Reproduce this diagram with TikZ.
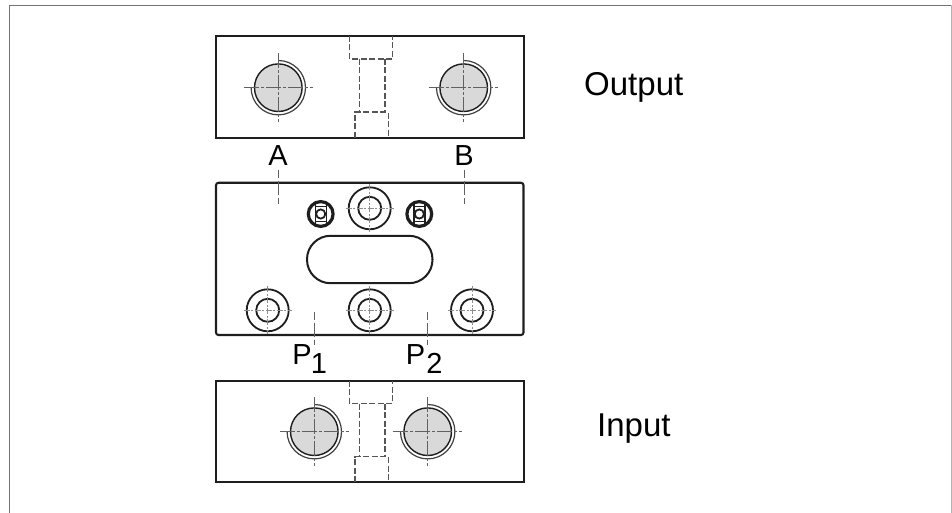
\documentclass[tikz,border=0pt]{standalone}
\usepackage{fontspec}
\setmainfont{Liberation Sans}
\definecolor{ink}{HTML}{1E1E1E}
\definecolor{threadfill}{HTML}{D9D9D9}
\tikzset{
  x=1pt,y=-1pt,
  block/.style={draw=ink,line width=2.1pt},
  hidden/.style={draw=ink!75,line width=1.1pt,dash pattern=on 6pt off 2.5pt},
  centre/.style={draw=ink!70,line width=0.9pt,dash pattern=on 15pt off 2pt on 3pt off 2pt},
  holeline/.style={draw=ink,line width=1.8pt},
  label/.style={inner sep=0pt,anchor=base},
  biglabel/.style={label,font=\fontsize{29}{29}\selectfont},
  titlelabel/.style={inner sep=0pt,anchor=base west,font=\fontsize{33}{33}\selectfont},
}
\newcommand{\threadhole}[2]{%
  \draw[draw=ink,line width=1.4pt,fill=threadfill] (#1,#2) circle[radius=23.8];
  \draw[draw=ink!85,line width=1.2pt] (#1,#2-27.2) arc[start angle=-90,end angle=180,x radius=27.2,y radius=27.2];
  \draw[centre] (#1-34.5,#2) -- (#1+34.5,#2);
  \draw[centre] (#1,#2-34.5) -- (#1,#2+34.5);
}
\newcommand{\counterbore}[2]{%
  \draw[holeline] (#1,#2) circle[radius=21];
  \draw[holeline] (#1,#2) circle[radius=11.5];
  \draw[draw=ink!50,line width=0.7pt,dash pattern=on 6pt off 1.5pt on 2pt off 1.5pt] (#1-24,#2) -- (#1+24,#2);
  \draw[draw=ink!50,line width=0.7pt,dash pattern=on 6pt off 1.5pt on 2pt off 1.5pt] (#1,#2-24) -- (#1,#2+24);
}
\newcommand{\smallport}[2]{%
  \draw[draw=ink,line width=3.2pt] (#1,#2) circle[radius=12.4];
  \draw[draw=ink,line width=1.8pt] (#1,#2) circle[radius=4.6];
  \draw[draw=ink,line width=1.4pt] (#1-5.5,#2-10.5) -- (#1-5.5,#2+10.5) (#1+5.5,#2-10.5) -- (#1+5.5,#2+10.5);
  \draw[draw=ink,line width=1.2pt] (#1-5.5,#2-7.5) -- (#1+5.5,#2-7.5) (#1-5.5,#2+7.5) -- (#1+5.5,#2+7.5);
}
\newcommand{\hiddenbore}[2]{%
  \draw[hidden] (349.7,#1) -- (349.7,#1+23) -- (392.3,#1+23) -- (392.3,#1);
  \draw[hidden] (359.3,#1+23) -- (359.3,#1+76) (385,#1+23) -- (385,#1+76);
  \draw[hidden] (355,#2) -- (355,#1+76) -- (388.3,#1+76) -- (388.3,#2);
}
\begin{document}
\begin{tikzpicture}
\useasboundingbox (0,0) rectangle (952,513);
% page frame
\draw[draw=black!55,line width=1.3pt] (9.5,513) -- (9.5,5.5);
\draw[draw=black!55,line width=1.3pt] (9,5.5) -- (952,5.5);
\draw[draw=black!30,line width=1.3pt] (951.3,5.5) -- (951.3,513);
% output block
\draw[block] (216,36) rectangle (524,137.6);
\hiddenbore{36}{137.6}
\threadhole{278.3}{87.7}
\threadhole{463.7}{87.7}
% middle block
\draw[block,rounded corners=2.5pt] (216,182.8) rectangle (523.5,335);
\counterbore{369.7}{208.3}
\counterbore{267.7}{310.3}
\counterbore{369.7}{310.3}
\counterbore{472}{310.3}
\smallport{320.7}{214}
\smallport{419.3}{214}
\draw[draw=ink,line width=2pt,rounded corners=23.5pt] (307,235.8) rectangle (432.5,283.2);
% bottom block
\draw[block] (216,380.7) rectangle (524,482.3);
\hiddenbore{380.7}{482.3}
\threadhole{314.3}{431.7}
\threadhole{427.7}{431.7}
% port centre lines
\draw[centre,dash pattern=on 8pt off 3pt on 14pt off 3pt on 8pt] (278.5,170) -- (278.5,204);
\draw[centre,dash pattern=on 8pt off 3pt on 14pt off 3pt on 8pt] (464.3,170) -- (464.3,204);
\draw[centre,dash pattern=on 8pt off 3pt on 14pt off 3pt on 8pt] (314.3,311.7) -- (314.3,345);
\draw[centre,dash pattern=on 8pt off 3pt on 14pt off 3pt on 8pt] (427.7,311.7) -- (427.7,345);
% labels
\node[biglabel] (portA) at (278,166) {A};
\node[biglabel] (portB) at (464,166) {B};
\node[biglabel] (portPa) at (302,364.3) {P};
\node[biglabel] (subPa) at (319,373) {1};
\node[biglabel] (portPb) at (415.5,364.3) {P};
\node[biglabel] (subPb) at (434.5,373) {2};
\node[titlelabel] (output) at (584,96) {Output};
\node[titlelabel] (input) at (597,436) {Input};
\end{tikzpicture}
\end{document}
